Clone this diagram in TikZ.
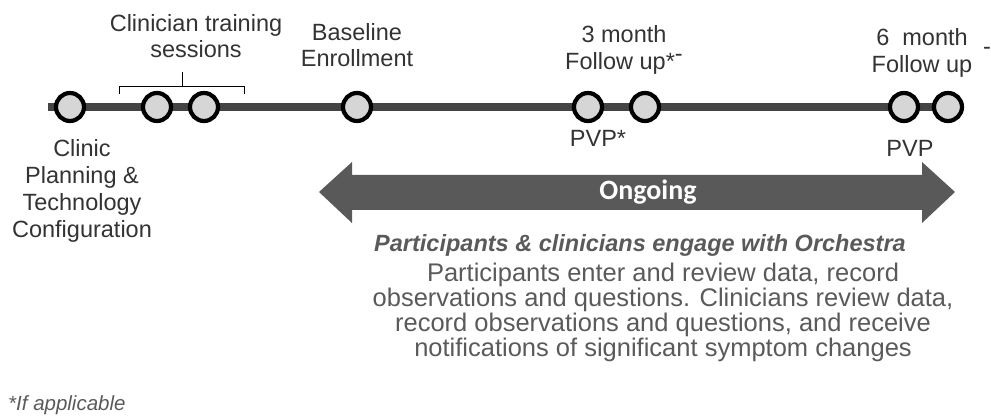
\documentclass[tikz,border=0pt]{standalone}
\usepackage{fontspec}
\setmainfont{Liberation Sans}
\newfontfamily\ongoingfont{Carlito}
\usetikzlibrary{calc}
\definecolor{labelgray}{HTML}{333333}
\definecolor{bodygray}{HTML}{5A5A5A}
\definecolor{linegray}{HTML}{444444}
\definecolor{dotfill}{HTML}{D6D6D6}
\definecolor{arrowgray}{HTML}{595959}
\begin{document}
\begin{tikzpicture}[x=1pt,y=-1pt,
  dot/.style={circle,draw=black,line width=4.2pt,fill=dotfill,minimum size=28pt,inner sep=0pt},
  lbl/.style={text=labelgray,font=\fontsize{23.5}{26.5}\selectfont,align=center,inner sep=0pt},
  body/.style={text=bodygray,font=\fontsize{25.5}{25}\selectfont,align=center,inner sep=0pt}]
\useasboundingbox (0,0) rectangle (991,419);
% timeline
\coordinate (tstart) at (48,107);
\draw[linegray,line width=7.5pt] (tstart) -- (948,107);
\node[dot] (d1) at (70,107) {};
\node[dot] (d2) at (157,107) {};
\node[dot] (d3) at (204,107) {};
\node[dot] (d4) at (357,107) {};
\node[dot] (d5) at (588,107) {};
\node[dot] (d6) at (645,107) {};
\node[dot] (d7) at (904,107) {};
\node[dot] (d8) at (948,107) {};
% bracket
\draw[black,line width=1pt] (119,94) -- (119,87) -- (244,87) -- (244,94);
\draw[black,line width=1pt] (182,87) -- (182,72);
% top labels
\node[lbl] (train) at (196,36) {Clinician training\\sessions};
\node[lbl] (base) at (357,45) {Baseline\\Enrollment};
\node[lbl] (m3) at (624,50) {3 month\\Follow up*\raisebox{0.6ex}{-}};
\node[lbl] (m6) at (922,53) {6\ \ month\\Follow up};
\node[lbl] (dash) at (987,55) {\raisebox{0.6ex}{-}};
% bottom labels
\node[lbl] (pvp1) at (598,138) {PVP*};
\node[lbl] (pvp2) at (910,148) {PVP};
\node[lbl,font=\fontsize{23.5}{27}\selectfont] (clinic) at (82,191) {Clinic\\Planning \&\\Technology\\Configuration};
% double arrow
\fill[arrowgray] (319,192) -- (352,162) -- (352,175) -- (922,175) -- (922,162) -- (955,192) -- (922,223) -- (922,210) -- (352,210) -- (352,223) -- cycle;
\node[text=white,font=\ongoingfont\bfseries\fontsize{28}{30}\selectfont,inner sep=0pt] (ongoing) at (648,192) {Ongoing};
% description
\node[body,font=\bfseries\itshape\fontsize{23.5}{25}\selectfont] (engage) at (640,245) {Participants \& clinicians engage with Orchestra};
\node[body] (desc) at (663,312) {Participants enter and review data, record\\observations and questions. Clinicians review data,\\record observations and questions, and receive\\notifications of significant symptom changes};
\node[body,font=\itshape\fontsize{20.5}{22}\selectfont,anchor=west] (note) at (8,405) {*If applicable};
\end{tikzpicture}
\end{document}
